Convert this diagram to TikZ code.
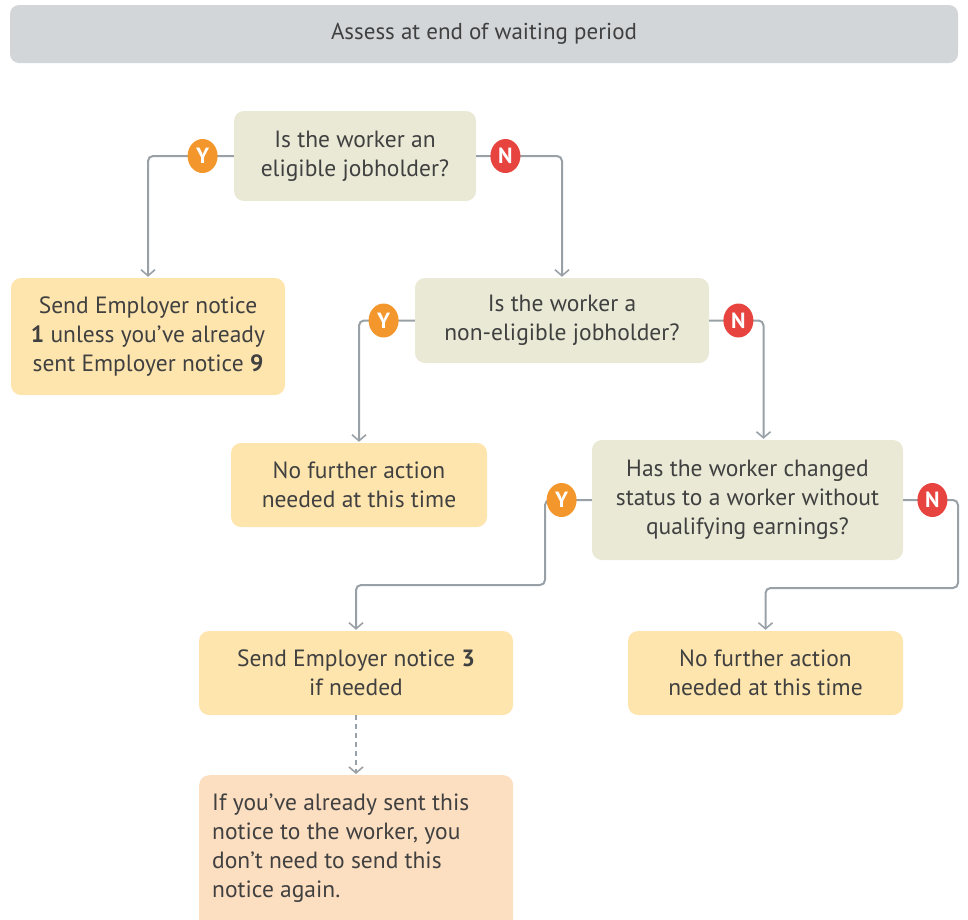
\documentclass[tikz,border=0pt]{standalone}
\usepackage{fontspec}
\setmainfont{PT Sans}
\usetikzlibrary{shapes.geometric, positioning, arrows.meta}

\definecolor{headgray}{HTML}{D3D6D9}
\definecolor{questfill}{HTML}{E9E9D6}
\definecolor{actfill}{HTML}{FEE5AE}
\definecolor{notefill}{HTML}{FCDEC0}
\definecolor{linegray}{HTML}{9AA1A6}
\definecolor{yesorange}{HTML}{F3962B}
\definecolor{nored}{HTML}{E7433F}
\definecolor{textdark}{HTML}{404040}

\begin{document}
\begin{tikzpicture}[
    x=1pt, y=-1pt,
    font=\fontsize{23.5}{29}\selectfont,
    text=textdark,
    % Styles
    box_header/.style={
        fill=headgray,
        rounded corners=9pt,
        minimum width=948pt,
        minimum height=58pt,
        font=\fontsize{23}{26}\selectfont
    },
    box_question/.style={
        fill=questfill,
        rounded corners=10pt,
        align=center,
        inner sep=0pt
    },
    box_action/.style={
        fill=actfill,
        rounded corners=10pt,
        align=center,
        inner sep=0pt
    },
    box_note/.style={
        fill=notefill,
        rounded corners=10pt,
        anchor=north west,
        inner xsep=13pt,
        inner ysep=19pt,
        minimum width=314pt
    },
    badge_yes/.style={
        ellipse,
        fill=yesorange,
        text=white,
        inner sep=0pt,
        minimum width=30pt,
        minimum height=34pt,
        font=\fontsize{22}{22}\selectfont\bfseries
    },
    badge_no/.style={badge_yes, fill=nored},
    arrow/.style={
        draw=linegray,
        line width=2pt,
        rounded corners=5pt,
        shorten >=1pt,
        -{Straight Barb[length=6pt, width=14pt, line width=1.6pt]}
    },
    arrow_dashed/.style={arrow, dash pattern=on 5pt off 4pt, rounded corners=0pt}
]
    \useasboundingbox (0,0) rectangle (968,919);

    % --- Title ---
    \node[box_header] (head) at (484,34) {Assess at end of waiting period};

    % --- QUESTIONS ---
    \node[box_question, minimum width=242pt, minimum height=90pt] (q1) at (355,156)
        {Is the worker an\\eligible jobholder?};
    \node[box_question, minimum width=294pt, minimum height=85pt] (q2) at (562,320.5)
        {Is the worker a\\non-eligible jobholder?};
    \node[box_question, minimum width=311pt, minimum height=120pt] (q3) at (747.5,500)
        {Has the worker changed\\status to a worker without\\qualifying earnings?};

    % --- ACTIONS ---
    \node[box_action, minimum width=274pt, minimum height=117pt] (a1) at (148,336.5)
        {Send Employer notice\\\textbf{1} unless you’ve already\\sent Employer notice \textbf{9}};
    \node[box_action, minimum width=256pt, minimum height=84pt] (a2) at (359,485)
        {No further action\\needed at this time};
    \node[box_action, minimum width=314pt, minimum height=84pt] (a3) at (356,673)
        {Send Employer notice \textbf{3}\\if needed};
    \node[box_action, minimum width=275pt, minimum height=84pt] (a4) at (765.5,673)
        {No further action\\needed at this time};

    % Note under notice 3 (runs off the bottom edge)
    \node[box_note] (note) at (199,775)
        {\parbox[t][120pt][t]{288pt}{\raggedright If you’ve already sent this\\notice to the worker, you\\don’t need to send this\\notice again.}};

    % --- ARROWS ---
    \coordinate (ybend) at (545,585);
    \coordinate (nbend) at (958,588);

    \draw[arrow] (q1.west) -| (a1.north);
    \draw[arrow] (q1.east) -| (q2.north);
    \draw[arrow] (q2.west) -| (a2.north);
    \draw[arrow] (q2.east) -| ([xshift=16pt]q3.north);
    \draw[arrow] (q3.west) -| (ybend) -| (a3.north);
    \draw[arrow] (q3.east) -| (nbend) -| (a4.north);
    \draw[arrow_dashed] (a3.south) -- (note.north -| a3.south);

    % --- Y / N BADGES ---
    \node[badge_yes, left=16pt of q1.west] (y1) {Y};
    \node[badge_no, right=14pt of q1.east] (n1) {N};
    \node[badge_yes, left=16pt of q2.west] (y2) {Y};
    \node[badge_no, right=14pt of q2.east] (n2) {N};
    \node[badge_yes, left=15pt of q3.west] (y3) {Y};
    \node[badge_no, right=14pt of q3.east] (n3) {N};

\end{tikzpicture}
\end{document}
